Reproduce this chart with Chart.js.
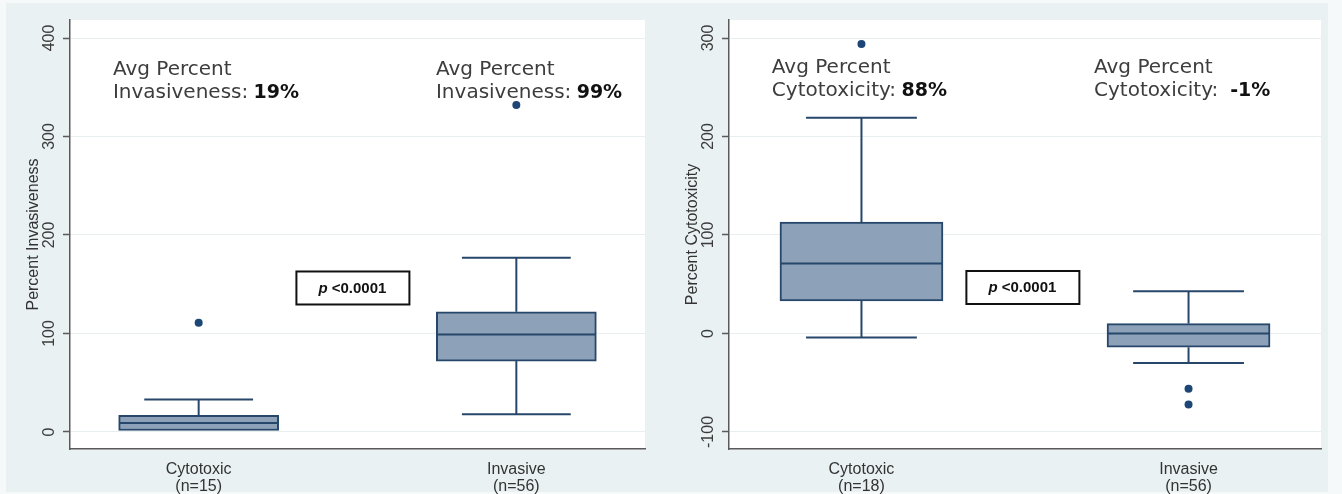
<!DOCTYPE html>
<html>
<head>
<meta charset="utf-8">
<script src="https://cdn.jsdelivr.net/npm/chart.js@4.4.0/dist/chart.umd.min.js"></script>
<style>
  body { margin: 0; background: #f6f9fa; }
  #frame { position: absolute; left: 6px; top: 3px; width: 1322px; height: 489px; background: #e9f1f3; }
  canvas { position: absolute; top: 0; }
</style>
</head>
<body>
<div id="frame"></div>
<canvas id="chartleft" width="660" height="494" style="left:0"></canvas>
<canvas id="chartright" width="682" height="494" style="left:660px"></canvas>
<script>
const groups = ['Cytotoxic', 'Invasive'];

// left panel - percent invasiveness
const invN = ['(n=15)', '(n=56)'];
const invMin = [1.5, 18];
const invQ1 = [1.5, 72];
const invMedian = [9, 99];
const invQ3 = [17, 122];
const invMax = [33, 177];
const invOutliers = [[111], [332]];
const invAvg = ['19%', '99%'];
const invTicks = [0, 100, 200, 300, 400];

// right panel - percent cytotoxicity
const cytN = ['(n=18)', '(n=56)'];
const cytMin = [-4, -30];
const cytQ1 = [33, -14];
const cytMedian = [71, 0];
const cytQ3 = [113, 10];
const cytMax = [219, 43];
const cytOutliers = [[294], [-56, -72]];
const cytAvg = ['88%', ' -1%'];
const cytTicks = [-100, 0, 100, 200, 300];

const sans = '"Liberation Sans", Arial, sans-serif';
const axisColor = '#5a5a5a';
const boxLine = '#27476a';

// white plot region
const plotBg = {
  id: 'plotBg',
  beforeDraw(chart) {
    const {ctx, chartArea: a} = chart;
    ctx.save();
    ctx.fillStyle = '#fff';
    ctx.fillRect(a.left, a.top, a.right - a.left, a.bottom - a.top);
    ctx.restore();
  }
};

// medians, whiskers and caps
const whiskers = {
  id: 'whiskers',
  afterDatasetsDraw(chart, args, o) {
    const {ctx, scales: {x, y}} = chart;
    const line = (x1, y1, x2, y2) => { ctx.beginPath(); ctx.moveTo(x1, y1); ctx.lineTo(x2, y2); ctx.stroke(); };
    ctx.save();
    ctx.strokeStyle = boxLine;
    ctx.lineWidth = 2;
    o.median.forEach((m, i) => {
      const cx = x.getPixelForValue(i + 1);
      const half = o.width / 2, cap = o.width * 0.34;
      line(cx - half + 1, y.getPixelForValue(m), cx + half - 1, y.getPixelForValue(m));
      if (o.max[i] > o.q3[i]) {
        line(cx, y.getPixelForValue(o.q3[i]), cx, y.getPixelForValue(o.max[i]));
        line(cx - cap, y.getPixelForValue(o.max[i]), cx + cap, y.getPixelForValue(o.max[i]));
      }
      if (o.min[i] < o.q1[i]) {
        line(cx, y.getPixelForValue(o.q1[i]), cx, y.getPixelForValue(o.min[i]));
        line(cx - cap, y.getPixelForValue(o.min[i]), cx + cap, y.getPixelForValue(o.min[i]));
      }
    });
    ctx.restore();
  }
};

// "Avg Percent ..." notes and p-value box
const notes = {
  id: 'notes',
  afterDraw(chart, args, o) {
    const {ctx, scales: {x, y}} = chart;
    ctx.save();
    ctx.textAlign = 'left';
    ctx.textBaseline = 'alphabetic';
    o.spots.forEach((s, i) => {
      const px = x.getPixelForValue(s.x), py = y.getPixelForValue(s.y);
      ctx.font = '20px "DejaVu Sans"';
      ctx.fillStyle = '#3d3d3d';
      ctx.fillText('Avg Percent', px, py);
      const lead = o.word + ': ';
      ctx.fillText(lead, px, py + 23);
      const w = ctx.measureText(lead).width;
      ctx.font = 'bold 19px "DejaVu Sans"';
      ctx.fillStyle = '#111';
      ctx.fillText(o.avg[i], px + w - 1, py + 23);
    });
    const bx = x.getPixelForValue(o.pbox.x), by = y.getPixelForValue(o.pbox.y);
    ctx.fillStyle = '#fff';
    ctx.fillRect(bx - 56, by - 16, 113, 33);
    ctx.strokeStyle = '#111';
    ctx.lineWidth = 2;
    ctx.strokeRect(bx - 56, by - 16, 113, 33);
    ctx.font = 'italic bold 15px ' + sans;
    const w1 = ctx.measureText('p').width;
    ctx.font = 'bold 15px ' + sans;
    const w2 = ctx.measureText(' <0.0001').width;
    const start = bx - (w1 + w2) / 2;
    ctx.fillStyle = '#111';
    ctx.textBaseline = 'middle';
    ctx.fillText(' <0.0001', start + w1, by + 1);
    ctx.font = 'italic bold 15px ' + sans;
    ctx.fillText('p', start, by + 1);
    ctx.restore();
  }
};

function makeBox(id, o) {
  const pts = [];
  o.outliers.forEach((arr, i) => arr.forEach(v => pts.push({x: i + 1, y: v})));
  return new Chart(document.getElementById(id), {
    type: 'bar',
    data: {
      datasets: [{
        data: groups.map((g, i) => ({x: i + 1, y: [o.q1[i], o.q3[i]]})),
        backgroundColor: '#8da2b9',
        borderColor: boxLine,
        borderWidth: 2,
        borderSkipped: false,
        barThickness: o.width
      }, {
        type: 'scatter',
        data: pts,
        pointRadius: 4,
        pointBackgroundColor: '#1b4675',
        pointBorderColor: '#1b4675',
        pointBorderWidth: 0
      }]
    },
    options: {
      responsive: false,
      animation: false,
      layout: {padding: o.pad},
      plugins: {
        legend: {display: false},
        tooltip: {enabled: false},
        whiskers: o,
        notes: {spots: o.spots, word: o.word, avg: o.avg, pbox: o.pbox}
      },
      scales: {
        x: {
          type: 'linear',
          min: 0.595,
          max: 2.405,
          offset: false,
          bounds: 'data',
          afterBuildTicks: s => { s.ticks = groups.map((g, i) => ({value: i + 1})); },
          afterFit: s => { s.height = 45; },
          grid: {display: false},
          border: {display: true, color: axisColor, width: 1.5},
          ticks: {
            autoSkip: false,
            maxRotation: 0,
            padding: 4,
            color: '#333',
            font: {family: sans, size: 16, lineHeight: 1.05},
            callback: (v, i) => [groups[i], o.n[i]]
          }
        },
        y: {
          min: o.yMin,
          max: o.yMax,
          bounds: 'data',
          afterBuildTicks: s => { s.ticks = o.ticks.map(v => ({value: v})); },
          afterFit: s => { s.width = 60; },
          grid: {color: '#e9eef0', tickColor: axisColor, tickLength: 7, tickWidth: 1.5},
          border: {color: axisColor, width: 1.5},
          ticks: {
            autoSkip: false,
            minRotation: 90,
            maxRotation: 90,
            crossAlign: 'center',
            padding: o.tickPad,
            color: '#3c3c3c',
            font: {family: sans, size: 16}
          },
          title: {
            display: true,
            text: o.title,
            color: '#333',
            font: {family: sans, size: 16},
            padding: {top: 14, bottom: 0}
          }
        }
      }
    },
    plugins: [plotBg, whiskers, notes]
  });
}

makeBox('chartleft', {
  n: invN, min: invMin, q1: invQ1, median: invMedian, q3: invQ3, max: invMax,
  outliers: invOutliers, avg: invAvg, ticks: invTicks,
  title: 'Percent Invasiveness', word: 'Invasiveness',
  yMin: -17.3, yMax: 418.3, width: 160, tickPad: 0,
  pad: {left: 10, top: 20, right: 15, bottom: 0},
  spots: [{x: 0.73, y: 362}, {x: 1.747, y: 362}],
  pbox: {x: 1.484, y: 146.7}
});

makeBox('chartright', {
  n: cytN, min: cytMin, q1: cytQ1, median: cytMedian, q3: cytQ3, max: cytMax,
  outliers: cytOutliers, avg: cytAvg, ticks: cytTicks,
  title: 'Percent Cytotoxicity', word: 'Cytotoxicity',
  yMin: -117.3, yMax: 318.3, width: 163, tickPad: -3,
  pad: {left: 9, top: 20, right: 21, bottom: 0},
  spots: [{x: 0.726, y: 264}, {x: 1.711, y: 264}],
  pbox: {x: 1.492, y: 47.2}
});
</script>
</body>
</html>
